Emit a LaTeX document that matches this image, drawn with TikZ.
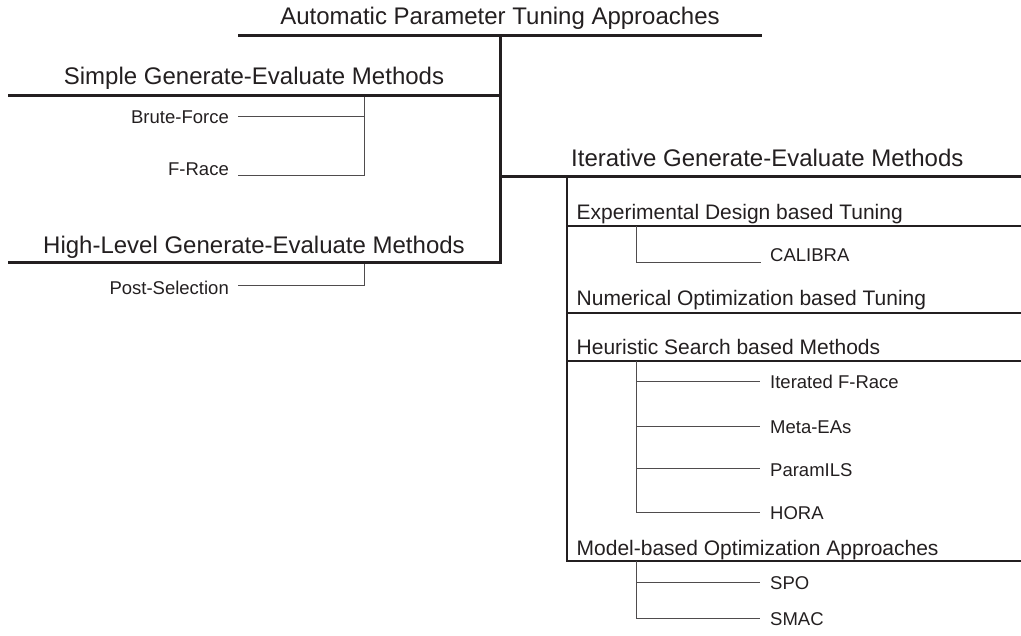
\documentclass[tikz,border=0pt]{standalone}
\usepackage{fontspec}
\setmainfont{Liberation Sans}
\definecolor{ink}{RGB}{35,31,32}
\begin{document}
\begin{tikzpicture}[
  x=1pt, y=-1pt,
  head/.style={
    anchor=base,
    inner sep=0pt,
    color=ink,
    font=\fontsize{24}{28}\selectfont
  },
  sub/.style={
    anchor=base west,
    inner sep=0pt,
    color=ink,
    font=\fontsize{21}{25}\selectfont
  },
  leaf/.style={
    inner sep=0pt,
    color=ink,
    font=\fontsize{18.5}{22}\selectfont
  },
  bar_thick/.style={
    draw,
    line width=3pt,
    color=ink
  },
  bar_mid/.style={
    draw,
    line width=2pt,
    color=ink
  },
  bar_thin/.style={
    draw,
    line width=1pt,
    color=ink!80
  }
]%
\useasboundingbox (0,0) rectangle (1021,636);
% root
\node [head] (root) at (500,25) {Automatic Parameter Tuning Approaches};
\coordinate (root_w) at (238,36);
\coordinate (root_e) at (762,36);
\coordinate (root_s) at (500,36);
\draw [bar_thick] (root_w) -- (root_e);
% simple generate-evaluate
\node [head] (simple) at (254,85) {Simple Generate-Evaluate Methods};
\coordinate (simple_w) at (8,96);
\coordinate (simple_j) at (364,96);
\node [leaf, anchor=base east] (brute) at (229,124) {Brute-Force};
\node [leaf, anchor=base east] (frace) at (229,176) {F-Race};
\coordinate (brute_e) at (238,117);
\coordinate (frace_e) at (238,176);
\draw [bar_thin] (brute_e) -- (simple_j |- brute_e);
\draw [bar_thin] (frace_e) -| (simple_j);
% high-level generate-evaluate
\node [head] (highlvl) at (254,253.5) {High-Level Generate-Evaluate Methods};
\coordinate (highlvl_w) at (8,263);
\coordinate (highlvl_j) at (364,263);
\node [leaf, anchor=base east] (postsel) at (229,295) {Post-Selection};
\coordinate (postsel_e) at (238,286);
\draw [bar_thin] (postsel_e) -| (highlvl_j);
\draw [bar_thick] (simple_w) -- (root_s |- simple_w);
\draw [bar_thick] (highlvl_w) -| (root_s);
% iterative generate-evaluate
\node [head, anchor=base west] (iter) at (571,166.5) {Iterative Generate-Evaluate Methods};
\coordinate (iter_w) at (500,177);
\coordinate (iter_e) at (1021,177);
\coordinate (iter_s) at (567,177);
\draw [bar_thick] (iter_w) -- (iter_e);
\node [sub] (expdes) at (576.5,220) {Experimental Design based Tuning};
\node [sub] (numopt) at (576.5,305.5) {Numerical Optimization based Tuning};
\node [sub] (heur) at (576.5,355) {Heuristic Search based Methods};
\node [sub] (model) at (576.5,555) {Model-based Optimization Approaches};
\coordinate (expdes_w) at (567,226);
\coordinate (numopt_w) at (567,313);
\coordinate (heur_w) at (567,361.5);
\coordinate (model_w) at (567,561);
\draw [bar_mid] (1021,561) -- (model_w) -- (iter_s);
\foreach \grp in {expdes, numopt, heur}
  \draw [bar_mid] (\grp_w) -- (1021,0 |- \grp_w);
% leaves
\coordinate (expdes_j) at (636,226);
\node [leaf, anchor=base west] (calibra) at (770,262) {CALIBRA};
\coordinate (calibra_w) at (761,263);
\draw [bar_thin] (expdes_j) |- (calibra_w);
\coordinate (heur_j) at (636,361.5);
\foreach \name/\lbl/\y in {ifrace/Iterated F-Race/382, metaea/Meta-EAs/427,
    paramils/ParamILS/469, hora/HORA/512}{
  \node [leaf, anchor=base west] (\name) at (770,{\y+7}) {\lbl};
  \coordinate (\name_w) at (760,\y);
  \draw [bar_thin] (heur_j |- \name_w) -- (\name_w);
}
\draw [bar_thin] (heur_j) -- (heur_j |- hora_w);
\coordinate (model_j) at (636,561);
\foreach \name/\lbl/\y in {spo/SPO/582, smac/SMAC/618.5}{
  \node [leaf, anchor=base west] (\name) at (770,{\y+7}) {\lbl};
  \coordinate (\name_w) at (760,\y);
  \draw [bar_thin] (model_j |- \name_w) -- (\name_w);
}
\draw [bar_thin] (model_j) -- (model_j |- smac_w);
\end{tikzpicture}
\end{document}
